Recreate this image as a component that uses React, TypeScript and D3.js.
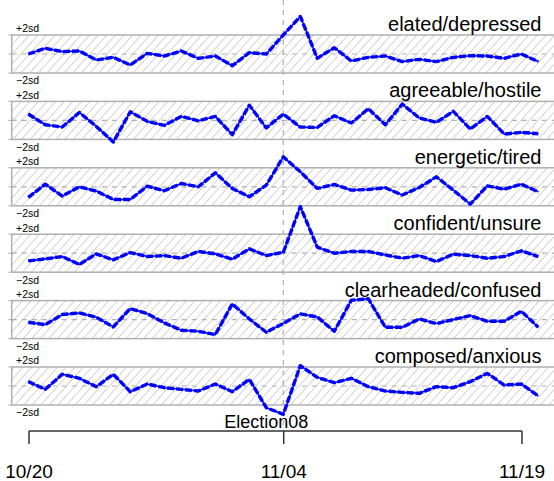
import React from 'react';
import * as d3 from 'd3';

// mood scores, in sd units, one value per day from 10/20 to 11/19
const moods = ['elated/depressed', 'agreeable/hostile', 'energetic/tired', 'confident/unsure', 'clearheaded/confused', 'composed/anxious'];
const elated = [0, 0.6, 0.25, 0.32, -0.63, -0.35, -1.16, 0.07, -0.21, 0.32, -0.46, -0.21, -1.23, 0.14, 0, 2.0, 3.95, -0.45, 0.66, -0.74, -0.35, -0.21, -0.8, -0.56, -0.8, -0.35, -0.18, -0.21, -0.45, 0, -0.8];
const agreeable = [0.67, -0.46, -0.7, 0.84, -0.63, -2.28, 0.91, -0.1, -0.53, 0.42, -0.04, 0.42, -1.5, 1.6, -0.8, 0.67, -0.7, -0.74, 0.49, -0.28, 1.23, -0.46, 1.72, 0.25, -0.21, 0.95, -0.91, 0.42, -1.44, -1.26, -1.4];
const energetic = [-1.12, 0.28, -0.98, 0, -0.45, -1.33, -1.33, 0.07, -0.42, 0.35, 0, 1.47, -0.18, -1.05, 0.18, 3.15, 1.58, -0.17, 0.25, -0.35, -0.28, -0.1, -0.87, -0.07, 1.05, -0.35, -1.82, 0.1, -0.25, 0.28, -0.53];
const confident = [-0.81, -0.6, -0.35, -1.19, -0.07, -0.7, 0.07, -0.35, -0.25, -0.53, 0.18, -0.07, -0.63, 0.46, -0.25, 0.1, 4.9, 0.63, 0, 0.18, 0.18, -0.18, -0.53, -0.25, -0.88, -0.1, -0.25, -0.53, -0.35, 0.25, -0.35];
const clearheaded = [-0.28, -0.53, 0.53, 0.7, 0.25, -0.77, 1.16, 0.63, -0.35, -1.12, -1.23, -1.58, 1.65, 0.07, -1.33, -0.4, 0.6, 0.28, -1.23, 2.03, 2.2, -0.81, -0.81, 0.07, -0.42, 0, 0.42, -0.18, -0.18, 0.88, -0.81];
const composed = [0.46, -0.35, 1.23, 0.81, -0.07, 1.23, -0.6, 0.21, -0.18, -0.35, -0.53, 0.21, -0.6, 0.7, -2.28, -2.98, 2.14, 0.91, 0.35, 0.81, -0.07, -0.53, -0.67, -0.77, -0.07, -0.18, 0.46, 1.33, 0.1, 0.21, -1.05];
const series = [elated, agreeable, energetic, confident, clearheaded, composed];

const tickLabels = ['10/20', '11/04', '11/19'];
const tickDays = [0, 15, 30];
const electionDay = 15;
const electionLabel = 'Election08';

const W = 554;
const H = 481;
const font = 'Liberation Sans, Arial, Helvetica, sans-serif';

export default function App() {
  const x = d3.scaleLinear().domain([0, 30]).range([28.3, 538.3]);
  // the date axis below is drawn on its own scale
  const xAxis = d3.scaleLinear().domain([0, 15, 30]).range([29, 283.7, 522]);
  const panelY = d3.scalePoint().domain(moods).range([54, 386]);

  const axisY = 431;

  return (
    <svg width={W} height={H} style={{ position: 'absolute', left: 0, top: 0, background: '#fff' }}>
      <defs>
        <pattern id="hatch" patternUnits="userSpaceOnUse" width={6.4} height={6.4} patternTransform="rotate(42)">
          <line x1={0} y1={0} x2={0} y2={6.4} stroke="#a9a9a9" strokeWidth={1} />
        </pattern>
      </defs>

      {/* election marker */}
      <line x1={x(electionDay)} x2={x(electionDay)} y1={0} y2={428} stroke="#b5b5b5" strokeWidth={1.3} strokeDasharray="5,5" />

      {moods.map((m, k) => {
        const c = panelY(m) as number;
        const y = d3.scaleLinear().domain([-2, 2]).range([c + 19, c - 19]);
        const line = d3.line<number>().x((d, i) => x(i)).y(d => y(d));
        const path = line(series[k]) || '';
        return (
          <g key={m}>
            <rect x={11.7} y={y(2)} width={W} height={y(-2) - y(2)} fill="url(#hatch)" stroke="#b0b0b0" strokeWidth={1.5} />
            <line x1={11.7} x2={W} y1={y(0)} y2={y(0)} stroke="#b0b0b0" strokeWidth={1.2} strokeDasharray="5,5" />
            {[-2, 0, 2].map(t => (
              <line key={t} x1={8.3} x2={11.7} y1={y(t)} y2={y(t)} stroke="#b0b0b0" strokeWidth={1} />
            ))}
            <text x={16} y={c - 21.7} fontSize={10.5} fontFamily={font} fill="#000">+2sd</text>
            <text x={16} y={c + 30.3} fontSize={10.5} fontFamily={font} fill="#000">{'\u22122sd'}</text>
            <path d={path} fill="none" stroke="#0000ff" strokeWidth={1.6} strokeLinejoin="round" />
            <path d={path} fill="none" stroke="#0000ff" strokeWidth={3.4} strokeDasharray="7,2" strokeLinejoin="round" />
            <text x={541.5} y={c - 23} fontSize={20} fontFamily={font} textAnchor="end" fill="#000">{m}</text>
          </g>
        );
      })}

      {/* date axis */}
      <text x={x(electionDay - 1)} y={428} fontSize={18} fontFamily={font} textAnchor="middle" fill="#000">{electionLabel}</text>
      <line x1={xAxis(0)} x2={xAxis(30)} y1={axisY} y2={axisY} stroke="#333" strokeWidth={1.5} />
      {tickDays.map((d, i) => (
        <g key={d}>
          <line x1={xAxis(d)} x2={xAxis(d)} y1={axisY} y2={axisY + 13} stroke="#333" strokeWidth={1.5} />
          <text x={xAxis(d)} y={478} fontSize={19} fontFamily={font} textAnchor="middle" fill="#000">{tickLabels[i]}</text>
        </g>
      ))}
    </svg>
  );
}
